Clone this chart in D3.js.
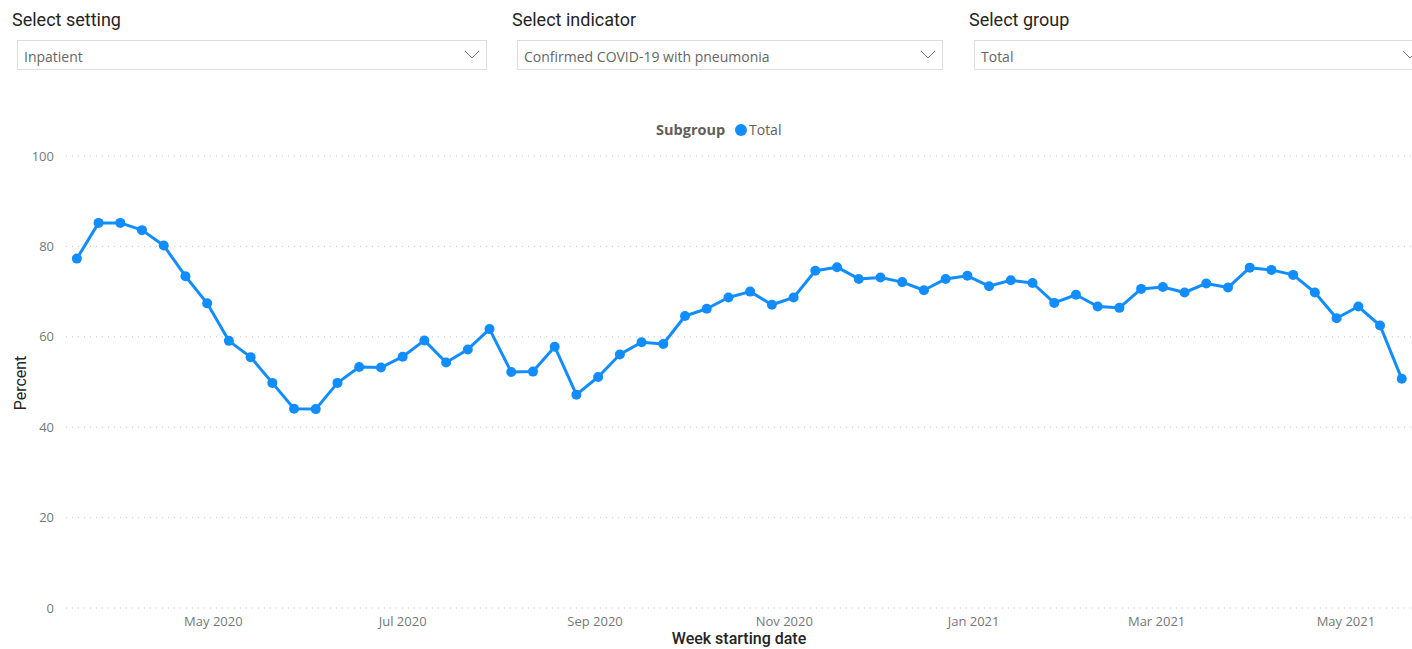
<!DOCTYPE html>
<html>
<head>
<meta charset="utf-8">
<script src="https://cdn.jsdelivr.net/npm/d3@7"></script>
<style>
  body { margin: 0; background: #fff; }
  svg { display: block; }
</style>
</head>
<body>
<div id="container"></div>
<script>
// DATA
const firstWeek = '2020-03-18';
const percentTotal = [
  77.3, 85.2, 85.2, 83.6, 80.2, 73.4, 67.4, 59.1, 55.5, 49.8,
  44.1, 44.0, 49.8, 53.3, 53.2, 55.6, 59.2, 54.3, 57.2, 61.7,
  52.2, 52.3, 57.8, 47.2, 51.1, 56.1, 58.8, 58.4, 64.6, 66.2,
  68.7, 70.0, 67.1, 68.7, 74.6, 75.4, 72.8, 73.1, 72.1, 70.3,
  72.8, 73.5, 71.2, 72.5, 71.9, 67.5, 69.3, 66.7, 66.4, 70.6,
  71.0, 69.8, 71.8, 70.9, 75.3, 74.8, 73.7, 69.8, 64.1, 66.7,
  62.5, 50.7
];
const yTicks = [0, 20, 40, 60, 80, 100];
const xTickDates = ['2020-05-01', '2020-07-01', '2020-09-01', '2020-11-01', '2021-01-01', '2021-03-01', '2021-05-01'];
const slicerTitles = ['Select setting', 'Select indicator', 'Select group'];
const slicerValues = ['Inpatient', 'Confirmed COVID-19 with pneumonia', 'Total'];
const legendTitle = 'Subgroup';
const seriesName = 'Total';

const parse = d3.utcParse('%Y-%m-%d');
const start = parse(firstWeek);
const data = percentTotal.map((v, i) => ({ date: d3.utcDay.offset(start, i * 7), value: v }));

// LAYOUT
const width = 1412, height = 649;
const color = '#118DFF';
const DAY = 864e5;

const svg = d3.select('#container').append('svg')
  .attr('width', width)
  .attr('height', height);

// slicers
const slicers = [
  { x: 17, w: 469, tx: 12 },
  { x: 517, w: 425, tx: 512 },
  { x: 974, w: 450, tx: 969 }
];
slicers.forEach((s, i) => {
  const g = svg.append('g');
  g.append('text')
    .attr('x', s.tx).attr('y', 26)
    .style('font', '18px Roboto')
    .attr('fill', '#252423')
    .text(slicerTitles[i]);
  g.append('rect')
    .attr('x', s.x + 0.5).attr('y', 40.5)
    .attr('width', s.w).attr('height', 29)
    .attr('fill', '#fff').attr('stroke', '#e1dfdd');
  g.append('text')
    .attr('x', s.x + 7).attr('y', 62)
    .style('font', '14px "Open Sans"')
    .attr('fill', '#666')
    .text(slicerValues[i]);
  const cx = s.x + s.w - 14;
  g.append('path')
    .attr('d', `M${cx - 7},51 L${cx},58 L${cx + 7},51`)
    .attr('fill', 'none').attr('stroke', '#777').attr('stroke-width', 1);
});

// scales
const x = d3.scaleTime()
  .domain([new Date(+data[0].date - 3.5 * DAY), new Date(+data[data.length - 1].date + 3.3 * DAY)])
  .range([66, 1412]);
const y = d3.scaleLinear().domain([0, 100]).range([608, 156]);

// gridlines + y labels
const yAxis = svg.append('g');
yAxis.selectAll('line')
  .data(yTicks)
  .join('line')
  .attr('x1', 66).attr('x2', 1412)
  .attr('y1', d => y(d)).attr('y2', d => y(d))
  .attr('stroke', '#c8c6c4')
  .attr('stroke-width', 1)
  .attr('stroke-dasharray', '1,5');
yAxis.selectAll('text')
  .data(yTicks)
  .join('text')
  .attr('x', 54).attr('y', d => y(d))
  .attr('dy', '0.35em')
  .attr('text-anchor', 'end')
  .style('font', '13px "Open Sans"')
  .attr('fill', '#777')
  .text(d => d);

// x axis labels
const fmt = d3.utcFormat('%b %Y');
svg.append('g')
  .selectAll('text')
  .data(xTickDates.map(parse))
  .join('text')
  .attr('x', d => x(d)).attr('y', 626)
  .attr('text-anchor', 'middle')
  .style('font', '13px "Open Sans"')
  .attr('fill', '#777')
  .text(d => fmt(d));

// axis titles
svg.append('text')
  .attr('x', 739).attr('y', 644)
  .attr('text-anchor', 'middle')
  .style('font', '500 16px Roboto')
  .attr('fill', '#252423')
  .text('Week starting date');
svg.append('text')
  .attr('transform', 'translate(26,383) rotate(-90)')
  .attr('text-anchor', 'middle')
  .style('font', '16px Roboto')
  .attr('fill', '#252423')
  .text('Percent');

// legend
const legend = svg.append('g');
legend.append('text')
  .attr('x', 656).attr('y', 135)
  .style('font', 'bold 14.5px "Open Sans"')
  .attr('fill', '#605E5C')
  .text(legendTitle);
legend.append('circle')
  .attr('cx', 741).attr('cy', 130).attr('r', 6)
  .attr('fill', color);
legend.append('text')
  .attr('x', 749).attr('y', 135)
  .style('font', '14px "Open Sans"')
  .attr('fill', '#605E5C')
  .text(seriesName);

// line + markers
const line = d3.line()
  .x(d => x(d.date))
  .y(d => y(d.value));
svg.append('path')
  .datum(data)
  .attr('d', line)
  .attr('fill', 'none')
  .attr('stroke', color)
  .attr('stroke-width', 3)
  .attr('stroke-linejoin', 'round');
svg.append('g')
  .selectAll('circle')
  .data(data)
  .join('circle')
  .attr('cx', d => x(d.date))
  .attr('cy', d => y(d.value))
  .attr('r', 5)
  .attr('fill', color);
</script>
</body>
</html>
